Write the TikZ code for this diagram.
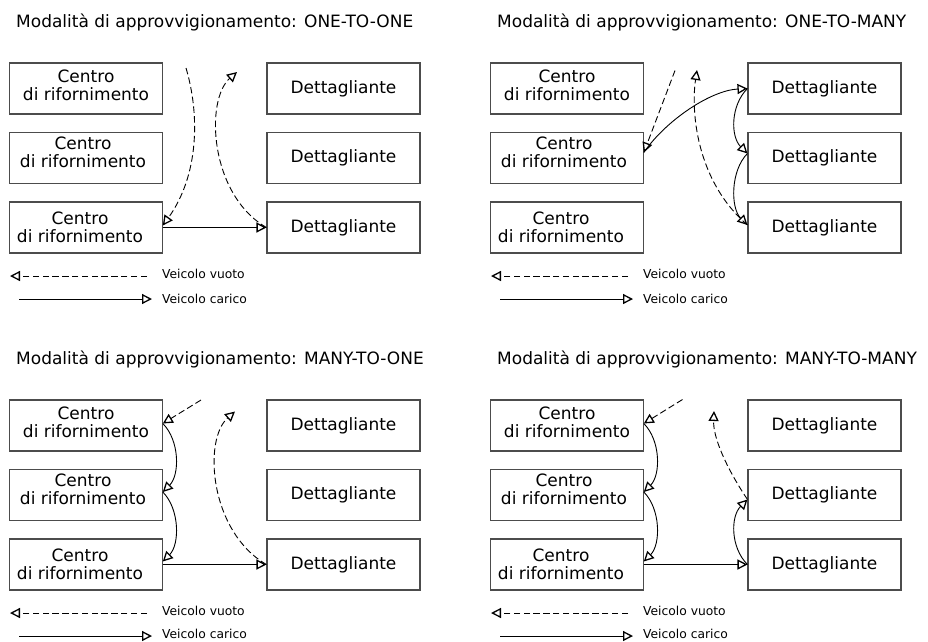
\documentclass[tikz,border=0pt]{standalone}
\usepackage{fontspec}
\setmainfont{DejaVu Sans}
\usetikzlibrary{arrows.meta}

\tikzset{
  box/.style={draw=black!70, line width=1.1pt, minimum width=153pt,
    minimum height=51pt, inner sep=0pt},
  boxtext/.style={font=\fontsize{17}{18}\selectfont, align=center, inner sep=0pt},
  paneltitle/.style={font=\fontsize{17}{20}\selectfont, anchor=base west, inner sep=0pt},
  legtext/.style={font=\fontsize{12.3}{14}\selectfont, anchor=base west, inner sep=0pt},
  tip/.style={-{Triangle[open, length=10pt, width=10pt, line width=1.3pt]}},
  loaded/.style={line width=0.9pt, tip},
  emptyrun/.style={line width=0.9pt, dash pattern=on 6.5pt off 3.3pt, tip},
}

% One panel: boxes, heading and legend; #1 name prefix, #2 shift, #3 mode,
% #4 baseline of the lower legend line
\newcommand\drawpanel[4]{%
  \begin{scope}[shift={#2}]
    \node[paneltitle] (#1title) at (16,27) {Modalità di approvvigionamento: #3};
    % supply centres
    \node[box] (#1l1) at (85.75,88.5) {};
    \node[box] (#1l2) at (85.75,158) {};
    \node[box] (#1l3) at (85.75,227.5) {};
    \node[boxtext] (#1l1t) at (86,85) {Centro\\di rifornimento};
    \node[boxtext] (#1l2t) at (83,152.5) {Centro\\di rifornimento};
    \node[boxtext] (#1l3t) at (80,227) {Centro\\di rifornimento};
    % retailers
    \node[box, boxtext] (#1r1) at (343.5,88.5) {Dettagliante};
    \node[box, boxtext] (#1r2) at (343.5,158) {Dettagliante};
    \node[box, boxtext] (#1r3) at (343.5,227.5) {Dettagliante};
    % legend
    \coordinate (#1va) at (147,276);
    \coordinate (#1vb) at (10,276);
    \draw[emptyrun] (#1va) -- (#1vb);
    \node[legtext] (#1vt) at (162,278.5) {Veicolo vuoto};
    \coordinate (#1ca) at (19,299);
    \coordinate (#1cb) at (152,299);
    \draw[loaded] (#1ca) -- (#1cb);
    \node[legtext] (#1ct) at (162,#4) {Veicolo carico};
  \end{scope}%
}

\begin{document}
\begin{tikzpicture}[x=1pt, y=-1pt]
  \useasboundingbox (0,0) rectangle (928,641);

  \drawpanel{a}{(0,0)}{ONE-TO-ONE}{303}
  \drawpanel{b}{(481,0)}{ONE-TO-MANY}{303}
  \drawpanel{c}{(0,337)}{MANY-TO-ONE}{301.5}
  \drawpanel{d}{(481,337)}{MANY-TO-MANY}{301.5}

  % ONE-TO-ONE
  \coordinate (as1) at (186,68);
  \coordinate (ae1) at (237,72);
  \draw[emptyrun] (as1) .. controls +(14,47) and +(36,-50) .. ([yshift=2pt]al3.east);
  \draw[emptyrun] (ar3.west) .. controls +(-57,-33) and +(-32,28) .. (ae1);
  \draw[loaded] (al3.east) -- (ar3.west);

  % ONE-TO-MANY
  \begin{scope}[shift={(481,0)}]
    \coordinate (bs1) at (194,70.5);
    \coordinate (be1) at (216,70);
  \end{scope}
  \draw[emptyrun] (bs1) -- ([yshift=5.5pt]bl2.east);
  \draw[loaded] ([yshift=5.5pt]bl2.east) .. controls +(22,-32) and +(-37,2) .. (br1.west);
  \draw[loaded] (br1.west) .. controls +(-17,17) and +(-17,-17) .. ([yshift=4.5pt]br2.west);
  \draw[loaded] ([yshift=4.5pt]br2.west) .. controls +(-17,17) and +(-17,-17) .. ([yshift=2.5pt]br3.west);
  \draw[emptyrun] ([yshift=2.5pt]br3.west) .. controls +(-52,-45) and +(-6,40) .. (be1);

  % MANY-TO-ONE
  \begin{scope}[shift={(0,337)}]
    \coordinate (cs1) at (201,63);
    \coordinate (ce1) at (235,74.5);
  \end{scope}
  \draw[emptyrun] (cs1) -- ([yshift=2pt]cl1.east);
  \draw[loaded] ([yshift=2pt]cl1.east) .. controls +(17,17) and +(17,-17) .. ([yshift=3pt]cl2.east);
  \draw[loaded] ([yshift=3pt]cl2.east) .. controls +(17,17) and +(17,-17) .. ([yshift=3pt]cl3.east);
  \draw[loaded] (cl3.east) -- (cr3.west);
  \draw[emptyrun] (cr3.west) .. controls +(-57,-33) and +(-32,28) .. (ce1);

  % MANY-TO-MANY
  \begin{scope}[shift={(481,337)}]
    \coordinate (ds1) at (201.5,62.5);
    \coordinate (de1) at (233,74);
  \end{scope}
  \draw[emptyrun] (ds1) -- ([yshift=2pt]dl1.east);
  \draw[loaded] ([yshift=2pt]dl1.east) .. controls +(17,17) and +(17,-17) .. ([yshift=3pt]dl2.east);
  \draw[loaded] ([yshift=3pt]dl2.east) .. controls +(17,17) and +(17,-17) .. ([yshift=3pt]dl3.east);
  \draw[loaded] (dl3.east) -- (dr3.west);
  \draw[loaded] (dr3.west) .. controls +(-17,-17) and +(-17,17) .. ([yshift=-4.5pt]dr2.west);
  \draw[emptyrun] ([yshift=-4.5pt]dr2.west) .. controls +(-22,-33) and +(-1,26) .. (de1);
\end{tikzpicture}
\end{document}
